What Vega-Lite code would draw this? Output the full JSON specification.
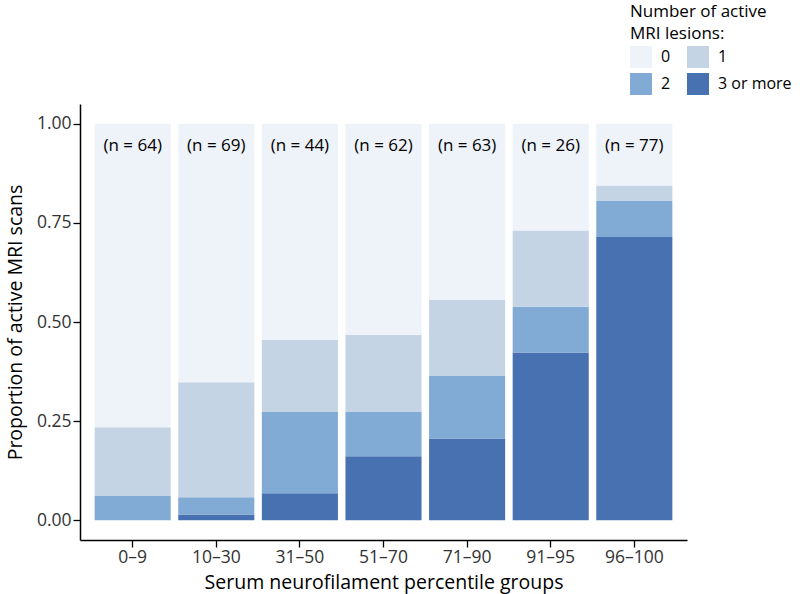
{
  "$schema": "https://vega.github.io/schema/vega-lite/v6.json",
  "autosize": {"type": "none"},
  "width": 607,
  "height": 436,
  "padding": {"left": 80, "top": 104, "right": 113, "bottom": 54},
  "background": "white",
  "config": {
    "font": "Open Sans",
    "view": {"stroke": null},
    "axis": {"grid": false, "domainColor": "black", "domainWidth": 1.5, "tickColor": "black", "tickWidth": 1.3, "tickSize": 7, "labelColor": "#333333", "labelFontSize": 17.5, "titleFontSize": 19.5, "titleFontWeight": "normal", "titleColor": "black", "labelFont": "Open Sans", "titleFont": "Open Sans"}
  },
  "datasets": {
    "bars": [
      {"group": "0–9", "lesions": "3 or more", "prop": 0.0},
      {"group": "0–9", "lesions": "2", "prop": 0.0625},
      {"group": "0–9", "lesions": "1", "prop": 0.1719},
      {"group": "0–9", "lesions": "0", "prop": 0.7656},
      {"group": "10–30", "lesions": "3 or more", "prop": 0.0145},
      {"group": "10–30", "lesions": "2", "prop": 0.0435},
      {"group": "10–30", "lesions": "1", "prop": 0.2899},
      {"group": "10–30", "lesions": "0", "prop": 0.6521},
      {"group": "31–50", "lesions": "3 or more", "prop": 0.0682},
      {"group": "31–50", "lesions": "2", "prop": 0.2045},
      {"group": "31–50", "lesions": "1", "prop": 0.1818},
      {"group": "31–50", "lesions": "0", "prop": 0.5455},
      {"group": "51–70", "lesions": "3 or more", "prop": 0.1613},
      {"group": "51–70", "lesions": "2", "prop": 0.1129},
      {"group": "51–70", "lesions": "1", "prop": 0.1935},
      {"group": "51–70", "lesions": "0", "prop": 0.5323},
      {"group": "71–90", "lesions": "3 or more", "prop": 0.2063},
      {"group": "71–90", "lesions": "2", "prop": 0.1587},
      {"group": "71–90", "lesions": "1", "prop": 0.1905},
      {"group": "71–90", "lesions": "0", "prop": 0.4445},
      {"group": "91–95", "lesions": "3 or more", "prop": 0.4231},
      {"group": "91–95", "lesions": "2", "prop": 0.1154},
      {"group": "91–95", "lesions": "1", "prop": 0.1923},
      {"group": "91–95", "lesions": "0", "prop": 0.2692},
      {"group": "96–100", "lesions": "3 or more", "prop": 0.7143},
      {"group": "96–100", "lesions": "2", "prop": 0.0909},
      {"group": "96–100", "lesions": "1", "prop": 0.0390},
      {"group": "96–100", "lesions": "0", "prop": 0.1558}
    ],
    "labels": [
      {"group": "0–9", "label": "(n = 64)"},
      {"group": "10–30", "label": "(n = 69)"},
      {"group": "31–50", "label": "(n = 44)"},
      {"group": "51–70", "label": "(n = 62)"},
      {"group": "71–90", "label": "(n = 63)"},
      {"group": "91–95", "label": "(n = 26)"},
      {"group": "96–100", "label": "(n = 77)"}
    ]
  },
  "layer": [
    {
      "data": {"name": "bars"},
      "mark": {"type": "bar"},
      "encoding": {
        "x": {
          "field": "group", "type": "nominal", "sort": null,
          "scale": {"paddingInner": 0.09, "paddingOuter": 0.175},
          "axis": {"title": "Serum neurofilament percentile groups", "labelAngle": 0, "labelPadding": 1, "titlePadding": 8}
        },
        "y": {
          "field": "prop", "type": "quantitative", "stack": "zero",
          "scale": {"domain": [-0.05, 1.05], "nice": false, "zero": false},
          "axis": {"title": "Proportion of active MRI scans", "values": [0, 0.25, 0.5, 0.75, 1], "format": ".2f", "labelPadding": 2, "titlePadding": 11}
        },
        "color": {
          "field": "lesions", "type": "nominal",
          "scale": {"domain": ["0", "2", "1", "3 or more"], "range": ["#eef2f9", "#81abd4", "#c4d4e5", "#4771b0"]},
          "legend": {
            "title": ["Number of active", "MRI lesions:"],
            "orient": "none", "legendX": 550, "legendY": -100,
            "columns": 2, "symbolType": "square", "symbolSize": 484,
            "symbolStrokeWidth": 0, "symbolOpacity": 1,
            "titleFontSize": 17, "titleFontWeight": "normal", "titleColor": "black",
            "labelFontSize": 16, "labelColor": "black", "labelOffset": 9,
            "columnPadding": 16, "rowPadding": 5, "titlePadding": 3, "titleLineHeight": 22
          }
        },
        "order": {"field": "lesions", "sort": "descending"}
      }
    },
    {
      "data": {"name": "labels"},
      "mark": {"type": "text", "fontSize": 17, "color": "black", "font": "Open Sans"},
      "encoding": {
        "x": {"field": "group", "type": "nominal", "sort": null},
        "y": {"datum": 0.945},
        "text": {"field": "label"}
      }
    }
  ]
}
